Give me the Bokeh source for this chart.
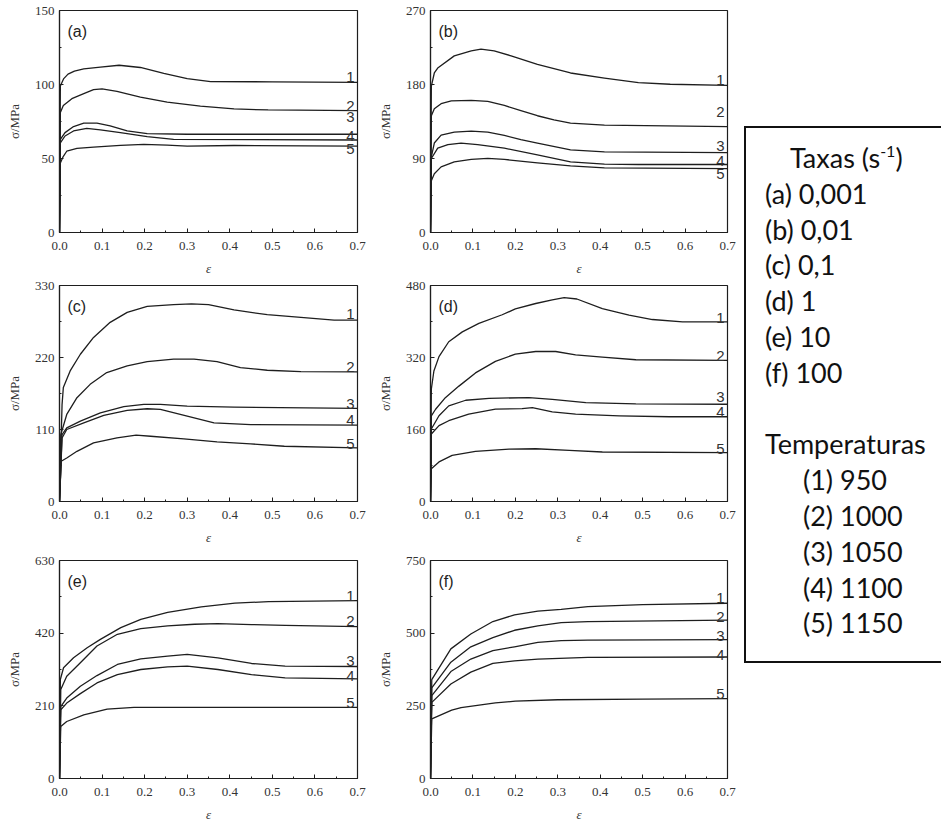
from bokeh.plotting import figure
from bokeh.models import Range1d, FixedTicker, NumeralTickFormatter, Label, Div
from bokeh.layouts import row, column
from bokeh.embed import file_html
from bokeh.resources import INLINE
from bokeh.core.properties import value

# ---------------- data ----------------
strain_ticks = [0.0, 0.1, 0.2, 0.3, 0.4, 0.5, 0.6, 0.7]
strain_minor = [0.05, 0.15, 0.25, 0.35, 0.45, 0.55, 0.65]
curve_names = ["1", "2", "3", "4", "5"]

# (a) 0.001 s-1
a_yticks = [0, 50, 100, 150]
a_yminor = [25, 75, 125]
a1_x = [0, 0.002, 0.01, 0.02, 0.035, 0.057, 0.096, 0.14, 0.19, 0.245, 0.30, 0.355, 0.5, 0.7]
a1_y = [0, 99, 104, 107, 109, 110.5, 111.8, 113, 111.5, 107.5, 104, 102, 101.8, 101.5]
a2_x = [0, 0.002, 0.009, 0.029, 0.057, 0.08, 0.10, 0.135, 0.19, 0.253, 0.331, 0.41, 0.49, 0.7]
a2_y = [0, 81, 85.8, 90.4, 93.8, 96.5, 97, 95.4, 91.5, 88.1, 85.4, 83.5, 82.8, 82.4]
a3_x = [0, 0.002, 0.013, 0.033, 0.057, 0.088, 0.119, 0.159, 0.206, 0.30, 0.7]
a3_y = [0, 63, 67.5, 71.6, 73.9, 73.9, 72.1, 68.6, 66.8, 66.4, 66.4]
a4_x = [0, 0.002, 0.013, 0.033, 0.064, 0.096, 0.143, 0.206, 0.268, 0.7]
a4_y = [0, 60.6, 65.2, 68.6, 70.3, 69.3, 67.5, 64.8, 62.9, 62.5]
a5_x = [0, 0.002, 0.009, 0.017, 0.041, 0.080, 0.143, 0.198, 0.253, 0.30, 0.41, 0.7]
a5_y = [0, 47, 51.5, 54.9, 56.8, 57.7, 58.8, 59.5, 59, 58.4, 58.8, 58.4]
a_lab_y = [104.8, 85.8, 77.8, 65.2, 56.1]

# (b) 0.01 s-1
b_yticks = [0, 90, 180, 270]
b_yminor = [45, 135, 225]
b1_x = [0, 0.002, 0.009, 0.017, 0.056, 0.096, 0.119, 0.15, 0.19, 0.252, 0.33, 0.41, 0.49, 0.565, 0.7]
b1_y = [0, 178, 194, 200, 214.8, 221, 223, 221, 214.8, 204.4, 194, 187.8, 182.4, 180.3, 179]
b2_x = [0, 0.002, 0.009, 0.025, 0.049, 0.096, 0.135, 0.174, 0.213, 0.252, 0.291, 0.33, 0.41, 0.7]
b2_y = [0, 142, 150.4, 156.6, 160, 160.8, 159.5, 154.5, 148.3, 142, 137.1, 133, 130.5, 128.8]
b3_x = [0, 0.002, 0.009, 0.025, 0.056, 0.096, 0.135, 0.174, 0.213, 0.252, 0.33, 0.41, 0.7]
b3_y = [0, 92, 108.8, 118.4, 122.1, 123.4, 122.1, 118, 113, 108.8, 100.5, 98, 97.2]
b4_x = [0, 0.002, 0.017, 0.041, 0.072, 0.111, 0.174, 0.252, 0.33, 0.41, 0.49, 0.7]
b4_y = [0, 90, 102.6, 106.8, 108.8, 106.8, 102.6, 94.3, 86, 83.1, 82.7, 82.7]
b5_x = [0, 0.002, 0.009, 0.025, 0.056, 0.096, 0.135, 0.174, 0.252, 0.33, 0.41, 0.7]
b5_y = [0, 63, 71.5, 79.8, 86, 88.9, 90.2, 88.9, 84.8, 81, 78.5, 77.7]
b_lab_y = [185.7, 146.2, 105.5, 87.2, 70.6]

# (c) 0.1 s-1
c_yticks = [0, 110, 220, 330]
c_yminor = [55, 165, 275]
c1_x = [0, 0.006, 0.009, 0.025, 0.049, 0.08, 0.119, 0.159, 0.206, 0.268, 0.31, 0.35, 0.41, 0.488, 0.567, 0.645, 0.7]
c1_y = [0, 148, 174, 199.5, 225, 250.6, 273.7, 289, 298.2, 300.8, 301.8, 300.8, 292.6, 285.4, 281.3, 277.2, 277.2]
c2_x = [0, 0.003, 0.017, 0.041, 0.072, 0.111, 0.159, 0.206, 0.268, 0.316, 0.37, 0.425, 0.488, 0.567, 0.7]
c2_y = [0, 102, 133, 158.6, 179, 197, 207.2, 213.8, 217.4, 217.4, 213.8, 204.6, 200.5, 198.5, 198]
c3_x = [0, 0.006, 0.017, 0.049, 0.096, 0.151, 0.198, 0.237, 0.30, 0.41, 0.7]
c3_y = [0, 102, 112.5, 122.8, 135.5, 144.8, 148.3, 148.3, 145.8, 144.2, 142.2]
c4_x = [0, 0.006, 0.017, 0.057, 0.104, 0.159, 0.206, 0.237, 0.30, 0.363, 0.449, 0.7]
c4_y = [0, 97, 110, 120.2, 131.5, 139.1, 141.7, 140.7, 130.4, 120.2, 117.6, 116.6]
c5_x = [0, 0.004, 0.017, 0.041, 0.08, 0.135, 0.18, 0.214, 0.292, 0.37, 0.449, 0.528, 0.7]
c5_y = [0, 61.4, 66.5, 76.7, 89.5, 97.2, 101.3, 99.7, 95.7, 91, 88, 84.4, 81.8]
c_lab_y = [286.4, 206.1, 149.4, 124.3, 88]

# (d) 1 s-1
d_yticks = [0, 160, 320, 480]
d_yminor = [80, 240, 400]
d1_x = [0, 0.002, 0.008, 0.02, 0.043, 0.075, 0.114, 0.169, 0.2, 0.248, 0.287, 0.315, 0.345, 0.405, 0.468, 0.523, 0.594, 0.7]
d1_y = [0, 250, 290, 322, 355, 377, 396, 415, 428, 440, 448, 453, 450, 428.6, 414, 404.4, 399.3, 399.3]
d2_x = [0, 0.002, 0.012, 0.035, 0.067, 0.106, 0.153, 0.2, 0.248, 0.295, 0.342, 0.405, 0.484, 0.7]
d2_y = [0, 190.5, 205, 230.8, 256.4, 285.7, 311.4, 327.5, 333.3, 333.3, 326, 320.9, 315, 313.6]
d3_x = [0, 0.002, 0.02, 0.043, 0.083, 0.138, 0.232, 0.287, 0.366, 0.484, 0.7]
d3_y = [0, 161, 190.5, 212.5, 225, 229.3, 230.8, 227.1, 219.8, 216.8, 216.1]
d4_x = [0, 0.002, 0.02, 0.043, 0.09, 0.153, 0.216, 0.24, 0.287, 0.342, 0.445, 0.563, 0.7]
d4_y = [0, 150, 168.5, 179.5, 194.1, 205.1, 206.6, 208.8, 199.3, 194.1, 190.5, 188.3, 188.3]
d5_x = [0, 0.002, 0.02, 0.051, 0.106, 0.185, 0.248, 0.327, 0.405, 0.7]
d5_y = [0, 73, 88, 102.6, 111.4, 116.5, 117.2, 113.6, 110, 108.4]
d_lab_y = [408.8, 323.8, 232.2, 197.8, 117.2]

# (e) 10 s-1
e_yticks = [0, 210, 420, 630]
e_yminor = [105, 315, 525]
e1_x = [0, 0.002, 0.0095, 0.033, 0.065, 0.096, 0.144, 0.191, 0.254, 0.333, 0.412, 0.491, 0.7]
e1_y = [0, 286, 320, 349, 378, 402, 436, 460, 480, 496, 507, 511, 514]
e2_x = [0, 0.003, 0.017, 0.049, 0.088, 0.136, 0.191, 0.254, 0.317, 0.372, 0.451, 0.53, 0.7]
e2_y = [0, 257, 295.5, 334.3, 382.8, 416.7, 433.1, 441, 445.7, 447.7, 444.8, 442.8, 439]
e3_x = [0, 0.003, 0.017, 0.049, 0.088, 0.136, 0.191, 0.254, 0.30, 0.372, 0.451, 0.53, 0.7]
e3_y = [0, 208, 232.6, 266.5, 297.5, 329.5, 346, 353.7, 358.5, 348.8, 332.4, 324.6, 323.6]
e4_x = [0, 0.003, 0.017, 0.049, 0.088, 0.136, 0.191, 0.254, 0.30, 0.372, 0.451, 0.53, 0.7]
e4_y = [0, 198.6, 218, 245.2, 276.2, 300.4, 315, 322.7, 324.6, 315, 300.4, 290.7, 287.8]
e5_x = [0, 0.003, 0.017, 0.057, 0.112, 0.175, 0.7]
e5_y = [0, 150, 164.7, 184.1, 200.6, 205.4, 205.4]
e_lab_y = [526.2, 455.4, 339.1, 295.5, 218]

# (f) 100 s-1
f_yticks = [0, 250, 500, 750]
f_yminor = [125, 375, 625]
f1_x = [0, 0.003, 0.048, 0.095, 0.147, 0.198, 0.253, 0.308, 0.371, 0.5, 0.7]
f1_y = [0, 340, 446, 497, 540, 563, 576, 582, 591, 598, 603]
f2_x = [0, 0.003, 0.048, 0.095, 0.147, 0.198, 0.253, 0.308, 0.371, 0.7]
f2_y = [0, 312, 400, 453, 485, 510, 525, 536, 540, 545]
f3_x = [0, 0.003, 0.048, 0.095, 0.147, 0.198, 0.253, 0.308, 0.371, 0.7]
f3_y = [0, 285, 368, 411, 440, 453, 468, 474, 476, 478]
f4_x = [0, 0.003, 0.048, 0.095, 0.147, 0.198, 0.253, 0.371, 0.7]
f4_y = [0, 262, 325, 366, 396, 405, 411, 417, 418]
f5_x = [0, 0.003, 0.05, 0.072, 0.153, 0.2, 0.3, 0.5, 0.7]
f5_y = [0, 205, 235, 244, 260, 266, 271, 273, 275]
f_lab_y = [620.5, 556.8, 488.6, 423.9, 290.9]

rate_title = "Taxas (s"
rate_sup = "-1"
rate_labels = ["(a) 0,001", "(b) 0,01", "(c) 0,1", "(d) 1", "(e) 10", "(f) 100"]
temp_title = "Temperaturas"
temp_labels = ["(1) 950", "(2) 1000", "(3) 1050", "(4) 1100", "(5) 1150"]

# ---------------- styling helpers ----------------
INK = "#1e1e1e"
SERIF = "Liberation Serif"
SANS = "Liberation Sans"


def panel(letter, curves, yticks, yminor, lab_y, frame_h, frame_w, bl, br, bt, bb):
    ymax = yticks[-1]
    p = figure(frame_width=frame_w, frame_height=frame_h,
               x_range=Range1d(0, 0.7), y_range=Range1d(0, ymax),
               output_backend="svg", toolbar_location=None,
               min_border_left=bl, min_border_right=br,
               min_border_top=bt, min_border_bottom=bb,
               background_fill_color="white", border_fill_color="white")
    p.xgrid.visible = False
    p.ygrid.visible = False
    p.outline_line_color = INK
    p.outline_line_width = 1.2
    p.xaxis.ticker = FixedTicker(ticks=strain_ticks, minor_ticks=strain_minor)
    p.yaxis.ticker = FixedTicker(ticks=yticks, minor_ticks=yminor)
    p.xaxis.formatter = NumeralTickFormatter(format="0.0")
    for ax in (p.xaxis[0], p.yaxis[0]):
        ax.major_tick_in = 4
        ax.major_tick_out = 0
        ax.minor_tick_in = 2
        ax.minor_tick_out = 0
        ax.major_tick_line_color = INK
        ax.minor_tick_line_color = INK
        ax.axis_line_color = INK
        ax.axis_line_width = 1.2
        ax.major_label_text_font = SERIF
        ax.major_label_text_font_size = "13px"
        ax.major_label_text_color = "#333333"
        ax.axis_label_text_font = SERIF
        ax.axis_label_text_font_size = "13px"
        ax.axis_label_text_color = "#333333"
    p.xaxis.major_label_standoff = 9
    p.yaxis.major_label_standoff = 5
    p.xaxis.axis_label = "ε"
    p.xaxis.axis_label_text_font_style = "italic"
    p.xaxis.axis_label_standoff = 8
    p.yaxis.axis_label = "σ/MPa"
    p.yaxis.axis_label_text_font_style = "normal"
    p.yaxis.axis_label_standoff = 10
    for xs, ys in curves:
        p.line(xs, ys, line_color=INK, line_width=1.3, line_join="round")
    p.text(x=[0.7] * len(curve_names), y=lab_y, text=curve_names,
           text_align="right", text_baseline="middle", x_offset=-3,
           text_font=value(SANS), text_font_size="15px", text_color="#333333")
    p.add_layout(Label(x=0, y=ymax, x_offset=8, y_offset=-12, text=f"({letter})",
                       text_baseline="top", text_align="left",
                       text_font=SANS, text_font_size="16px", text_color=INK))
    return p


pa = panel("a", [(a1_x, a1_y), (a2_x, a2_y), (a3_x, a3_y), (a4_x, a4_y), (a5_x, a5_y)],
           a_yticks, a_yminor, a_lab_y, 222, 298, 59, 17, 10, 47)
pb = panel("b", [(b1_x, b1_y), (b2_x, b2_y), (b3_x, b3_y), (b4_x, b4_y), (b5_x, b5_y)],
           b_yticks, b_yminor, b_lab_y, 222, 297, 52, 17, 10, 47)
pc = panel("c", [(c1_x, c1_y), (c2_x, c2_y), (c3_x, c3_y), (c4_x, c4_y), (c5_x, c5_y)],
           c_yticks, c_yminor, c_lab_y, 216, 298, 59, 17, 6, 53)
pd = panel("d", [(d1_x, d1_y), (d2_x, d2_y), (d3_x, d3_y), (d4_x, d4_y), (d5_x, d5_y)],
           d_yticks, d_yminor, d_lab_y, 216, 297, 52, 17, 6, 53)
pe = panel("e", [(e1_x, e1_y), (e2_x, e2_y), (e3_x, e3_y), (e4_x, e4_y), (e5_x, e5_y)],
           e_yticks, e_yminor, e_lab_y, 218, 298, 59, 17, 6, 45)
pf = panel("f", [(f1_x, f1_y), (f2_x, f2_y), (f3_x, f3_y), (f4_x, f4_y), (f5_x, f5_y)],
           f_yticks, f_yminor, f_lab_y, 218, 297, 52, 17, 6, 45)

# ---------------- legend box ----------------
line_style = "white-space:nowrap;"
parts = [
    f'<div style="{line_style} padding-left:44px">{rate_title}'
    f'<span style="font-size:16px; position:relative; top:-11px; line-height:0">{rate_sup}</span>)</div>'
]
for t in rate_labels:
    parts.append(f'<div style="{line_style} padding-left:19px">{t}</div>')
parts.append('<div>&nbsp;</div>')
parts.append(f'<div style="{line_style} padding-left:19px">{temp_title}</div>')
for t in temp_labels:
    parts.append(f'<div style="{line_style} padding-left:57px">{t}</div>')

legend_html = (
    '<div style="box-sizing:border-box; width:197px; height:537px; '
    'border-left:2px solid #111; border-top:2px solid #111; border-bottom:2px solid #111; '
    'font-family:Lato, sans-serif; font-size:27px; line-height:35.8px; color:#111; '
    'padding-top:12px;">' + "".join(parts) + '</div>'
)
legend = Div(text=legend_html, width=197, height=537, margin=(126, 0, 0, 0))

grid = column(row(pa, pb), row(pc, pd), row(pe, pf))
layout = row(grid, legend)

open("out.html", "w").write(file_html(layout, INLINE))
